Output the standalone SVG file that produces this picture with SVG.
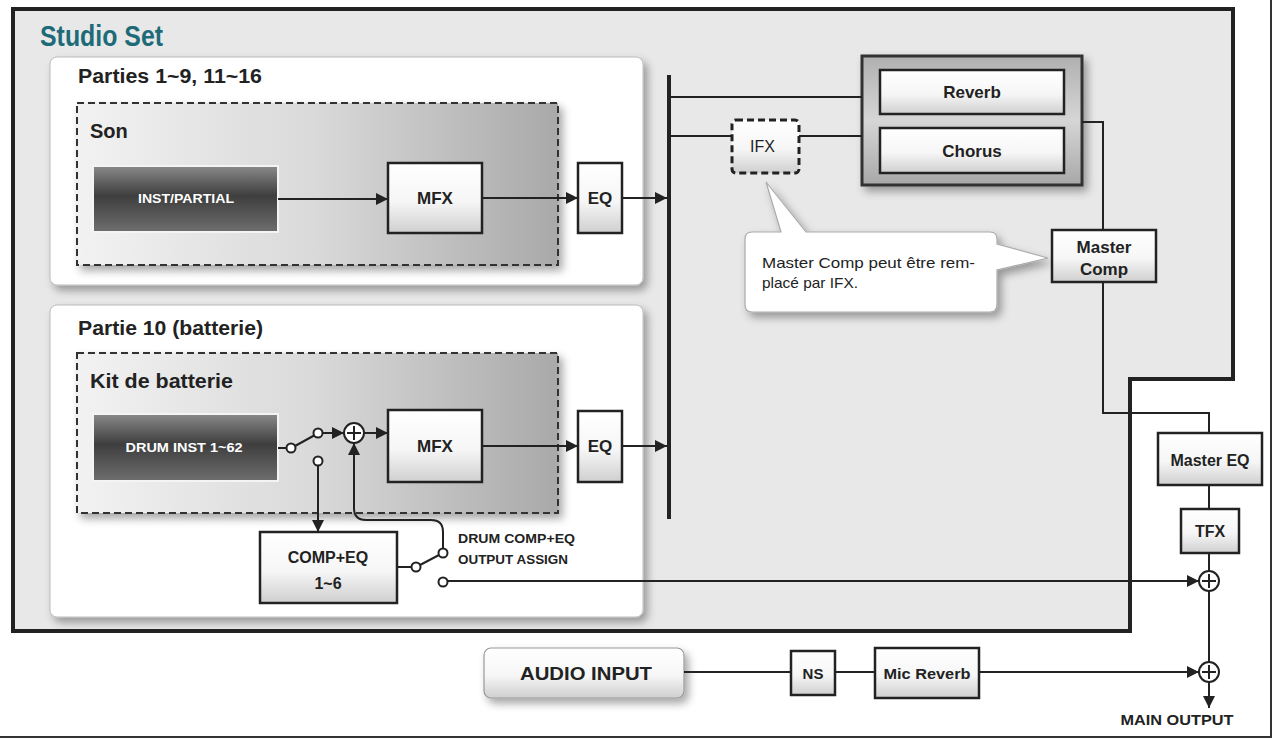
<svg xmlns="http://www.w3.org/2000/svg" width="1273" height="739" viewBox="0 0 1273 739">
<style>
  .t{font-family:"Liberation Sans",Arial,sans-serif;fill:#222;}
  .b{font-weight:bold;}
  .box{fill:url(#wgrad);stroke:#222;stroke-width:2.5;}
  .ln{fill:none;stroke:#222;stroke-width:2;}
  .sw{fill:#fff;stroke:#222;stroke-width:2;}
  .dark{fill:url(#dgrad);stroke:#f4f4f4;stroke-width:2;}
  .dt{font-family:"Liberation Sans",Arial,sans-serif;font-weight:bold;fill:#fff;}
</style>
<defs>
  <linearGradient id="wgrad" x1="0" y1="0" x2="0" y2="1">
    <stop offset="0" stop-color="#ffffff"/>
    <stop offset="0.55" stop-color="#f6f6f6"/>
    <stop offset="1" stop-color="#cfcfcf"/>
  </linearGradient>
  <linearGradient id="dgrad" x1="0" y1="0" x2="0" y2="1">
    <stop offset="0" stop-color="#8a8a8a"/>
    <stop offset="0.45" stop-color="#3e3e3e"/>
    <stop offset="1" stop-color="#6e6e6e"/>
  </linearGradient>
  <linearGradient id="sgrad" x1="0" y1="0" x2="1" y2="0">
    <stop offset="0" stop-color="#f2f2f2"/>
    <stop offset="0.5" stop-color="#d9d9d9"/>
    <stop offset="1" stop-color="#a9a9a9"/>
  </linearGradient>
  <linearGradient id="ggrad" x1="0" y1="0" x2="0" y2="1">
    <stop offset="0" stop-color="#b0b0b0"/>
    <stop offset="0.5" stop-color="#d6d6d6"/>
    <stop offset="1" stop-color="#a8a8a8"/>
  </linearGradient>
  <filter id="sh" x="-10%" y="-10%" width="130%" height="140%">
    <feDropShadow dx="4" dy="5" stdDeviation="4" flood-color="#000" flood-opacity="0.35"/>
  </filter>
  <marker id="ar" markerUnits="userSpaceOnUse" viewBox="0 0 12 12" refX="12" refY="6" markerWidth="12" markerHeight="12" orient="auto">
    <path d="M0,0 L12,6 L0,12 z" fill="#222"/>
  </marker>
</defs>

<rect x="0" y="0" width="1273" height="739" fill="#fff"/>
<path d="M0,737 L1271,737 L1271,0" fill="none" stroke="#333" stroke-width="2"/>

<g id="studio-set">
  <path d="M13,9 L1233,9 L1233,379 L1130,379 L1130,631 L13,631 Z" fill="#e8e8e8" stroke="#222" stroke-width="4"/>
  <text class="t" x="40" y="46" font-size="29" font-weight="bold" style="fill:#1d6b78" textLength="123" lengthAdjust="spacingAndGlyphs">Studio Set</text>
</g>

<g id="parts-1-16">
  <rect x="50" y="57" width="593" height="228" rx="7" fill="#fff" stroke="#bbb" stroke-width="1" filter="url(#sh)"/>
  <text class="t b" x="78" y="83" font-size="20" textLength="184" lengthAdjust="spacingAndGlyphs">Parties 1~9, 11~16</text>
</g>

<g id="son">
  <rect x="77" y="103" width="481" height="162" fill="url(#sgrad)" stroke="#333" stroke-width="2" stroke-dasharray="7,4" filter="url(#sh)"/>
  <text class="t b" x="90" y="138" font-size="20">Son</text>
</g>

<g id="inst-partial">
  <rect class="dark" x="93" y="166" width="185" height="66"/>
  <text class="dt" x="186" y="203" font-size="13" text-anchor="middle" textLength="96" lengthAdjust="spacingAndGlyphs">INST/PARTIAL</text>
</g>

<g id="mfx1">
  <rect class="box" x="388" y="163" width="94" height="70"/>
  <text class="t b" x="435" y="204" font-size="17" text-anchor="middle">MFX</text>
</g>

<g id="eq1">
  <rect class="box" x="578" y="163" width="44" height="70"/>
  <text class="t b" x="600" y="204" font-size="17" text-anchor="middle">EQ</text>
</g>

<g id="part-10">
  <rect x="50" y="305" width="593" height="312" rx="7" fill="#fff" stroke="#bbb" stroke-width="1" filter="url(#sh)"/>
  <text class="t b" x="78" y="335" font-size="20" textLength="185" lengthAdjust="spacingAndGlyphs">Partie 10 (batterie)</text>
</g>

<g id="kit">
  <rect x="77" y="353" width="481" height="160" fill="url(#sgrad)" stroke="#333" stroke-width="2" stroke-dasharray="7,4" filter="url(#sh)"/>
  <text class="t b" x="90" y="388" font-size="20" textLength="143" lengthAdjust="spacingAndGlyphs">Kit de batterie</text>
</g>

<g id="drum-inst">
  <rect class="dark" x="93" y="414" width="185" height="67"/>
  <text class="dt" x="184" y="452" font-size="13" text-anchor="middle" textLength="117" lengthAdjust="spacingAndGlyphs">DRUM INST 1~62</text>
</g>

<g id="mfx2">
  <rect class="box" x="388" y="410" width="94" height="72"/>
  <text class="t b" x="435" y="452" font-size="17" text-anchor="middle">MFX</text>
</g>

<g id="eq2">
  <rect class="box" x="578" y="411" width="44" height="71"/>
  <text class="t b" x="600" y="452" font-size="17" text-anchor="middle">EQ</text>
</g>

<g id="comp-eq">
  <rect class="box" x="260" y="532" width="137" height="71"/>
  <text class="t b" x="328" y="563" font-size="16" text-anchor="middle">COMP+EQ</text>
  <text class="t b" x="328" y="589" font-size="16" text-anchor="middle">1~6</text>
</g>

<g id="output-assign-label">
  <text class="t b" x="458" y="543" font-size="13" textLength="117" lengthAdjust="spacingAndGlyphs">DRUM COMP+EQ</text>
  <text class="t b" x="458" y="564" font-size="13" textLength="110" lengthAdjust="spacingAndGlyphs">OUTPUT ASSIGN</text>
</g>

<g id="ifx">
  <rect x="732" y="120" width="67" height="53" rx="4" fill="url(#wgrad)" stroke="#222" stroke-width="3" stroke-dasharray="7,4"/>
  <text class="t" x="750" y="152" font-size="16">IFX</text>
</g>

<g id="reverb-chorus">
  <rect x="862" y="56" width="220" height="129" fill="url(#ggrad)" stroke="#333" stroke-width="3" filter="url(#sh)"/>
  <rect class="box" x="880" y="70" width="184" height="44"/>
  <text class="t b" x="972" y="98" font-size="17" text-anchor="middle">Reverb</text>
  <rect class="box" x="880" y="128" width="184" height="45"/>
  <text class="t b" x="972" y="157" font-size="17" text-anchor="middle">Chorus</text>
</g>

<g id="callout">
  <path d="M752,232 L781,232 L766,182 L806,232 L990,232 Q997,232 997,239 L997,244 L1048,258 L997,270 L997,304 Q997,312 990,312 L752,312 Q745,312 745,305 L745,239 Q745,232 752,232 Z" fill="#fff" stroke="#aaa" stroke-width="1.2" filter="url(#sh)"/>
  <text class="t" x="762" y="268" font-size="15" textLength="213" lengthAdjust="spacingAndGlyphs">Master Comp peut être rem-</text>
  <text class="t" x="762" y="288" font-size="15" textLength="96" lengthAdjust="spacingAndGlyphs">placé par IFX.</text>
</g>

<g id="master-comp">
  <rect class="box" x="1052" y="230" width="104" height="52"/>
  <text class="t b" x="1104" y="253" font-size="17" text-anchor="middle">Master</text>
  <text class="t b" x="1104" y="275" font-size="17" text-anchor="middle">Comp</text>
</g>

<g id="master-eq">
  <rect class="box" x="1158" y="433" width="104" height="52"/>
  <text class="t b" x="1210" y="466" font-size="16" text-anchor="middle">Master EQ</text>
</g>

<g id="tfx">
  <rect class="box" x="1181" y="509" width="58" height="44"/>
  <text class="t b" x="1210" y="537" font-size="16" text-anchor="middle">TFX</text>
</g>

<g id="audio-input">
  <rect x="484" y="648" width="200" height="50" rx="7" fill="url(#wgrad)" stroke="#999" stroke-width="1.2" filter="url(#sh)"/>
  <text class="t b" x="586" y="680" font-size="19" text-anchor="middle" textLength="132" lengthAdjust="spacingAndGlyphs">AUDIO INPUT</text>
</g>

<g id="ns">
  <rect class="box" x="791" y="651" width="44" height="44"/>
  <text class="t b" x="813" y="679" font-size="15" text-anchor="middle">NS</text>
</g>

<g id="mic-reverb">
  <rect class="box" x="875" y="648" width="104" height="50"/>
  <text class="t b" x="927" y="679" font-size="15" text-anchor="middle" textLength="87" lengthAdjust="spacingAndGlyphs">Mic Reverb</text>
</g>

<g id="sum1">
  <circle cx="1209" cy="581" r="10" fill="#fff" stroke="#222" stroke-width="2"/>
  <path d="M1209,574 L1209,588 M1202,581 L1216,581" class="ln"/>
</g>
<g id="sum2">
  <circle cx="1209" cy="672" r="10" fill="#fff" stroke="#222" stroke-width="2"/>
  <path d="M1209,665 L1209,679 M1202,672 L1216,672" class="ln"/>
</g>
<g id="sum-drum">
  <circle cx="354" cy="433" r="10" fill="#fff" stroke="#222" stroke-width="2"/>
  <path d="M354,426 L354,440 M347,433 L361,433" class="ln"/>
</g>

<g id="main-output">
  <text class="t b" x="1177" y="725" font-size="14" text-anchor="middle" textLength="113" lengthAdjust="spacingAndGlyphs">MAIN OUTPUT</text>
</g>

<g id="connectors">
  <line class="ln" x1="278" y1="199" x2="388" y2="199" marker-end="url(#ar)"/>
  <line class="ln" x1="482" y1="198" x2="578" y2="198" marker-end="url(#ar)"/>
  <line class="ln" x1="622" y1="198" x2="667" y2="198" marker-end="url(#ar)"/>
  <line x1="669" y1="75" x2="669" y2="519" stroke="#222" stroke-width="4"/>
  <line class="ln" x1="671" y1="97" x2="862" y2="97"/>
  <line class="ln" x1="671" y1="136" x2="732" y2="136"/>
  <line class="ln" x1="799" y1="136" x2="862" y2="136"/>
  <polyline class="ln" points="1082,122 1103,122 1103,230"/>
  <polyline class="ln" points="1103,282 1103,413 1209,413 1209,433"/>
  <line class="ln" x1="1209" y1="485" x2="1209" y2="509"/>
  <line class="ln" x1="1209" y1="553" x2="1209" y2="571"/>
  <line class="ln" x1="1209" y1="591" x2="1209" y2="662"/>
  <line class="ln" x1="1209" y1="682" x2="1209" y2="708" marker-end="url(#ar)"/>

  <line class="ln" x1="278" y1="448" x2="287" y2="448"/>
  <line class="ln" x1="295" y1="446" x2="315" y2="435"/>
  <line class="ln" x1="323" y1="433" x2="344" y2="433" marker-end="url(#ar)"/>
  <line class="ln" x1="364" y1="433" x2="388" y2="433" marker-end="url(#ar)"/>
  <line class="ln" x1="482" y1="446" x2="578" y2="446" marker-end="url(#ar)"/>
  <line class="ln" x1="622" y1="446" x2="667" y2="446" marker-end="url(#ar)"/>
  <line class="ln" x1="318" y1="466" x2="318" y2="532" marker-end="url(#ar)"/>
  <path class="ln" d="M443,549 L443,532 Q443,520 431,520 L366,520 Q354,520 354,508 L354,443" marker-end="url(#ar)"/>
  <line class="ln" x1="397" y1="567" x2="411" y2="567"/>
  <line class="ln" x1="420" y1="565" x2="439" y2="555"/>
  <line class="ln" x1="448" y1="581" x2="1199" y2="581" marker-end="url(#ar)"/>

  <line class="ln" x1="684" y1="672" x2="791" y2="672"/>
  <line class="ln" x1="835" y1="672" x2="875" y2="672"/>
  <line class="ln" x1="979" y1="672" x2="1199" y2="672" marker-end="url(#ar)"/>

  <circle class="sw" cx="291" cy="448" r="4.5"/>
  <circle class="sw" cx="318" cy="433" r="4.5"/>
  <circle class="sw" cx="318" cy="461" r="4.5"/>
  <circle class="sw" cx="416" cy="567" r="4.5"/>
  <circle class="sw" cx="443" cy="553" r="4.5"/>
  <circle class="sw" cx="443" cy="582" r="4.5"/>
</g>
</svg>
